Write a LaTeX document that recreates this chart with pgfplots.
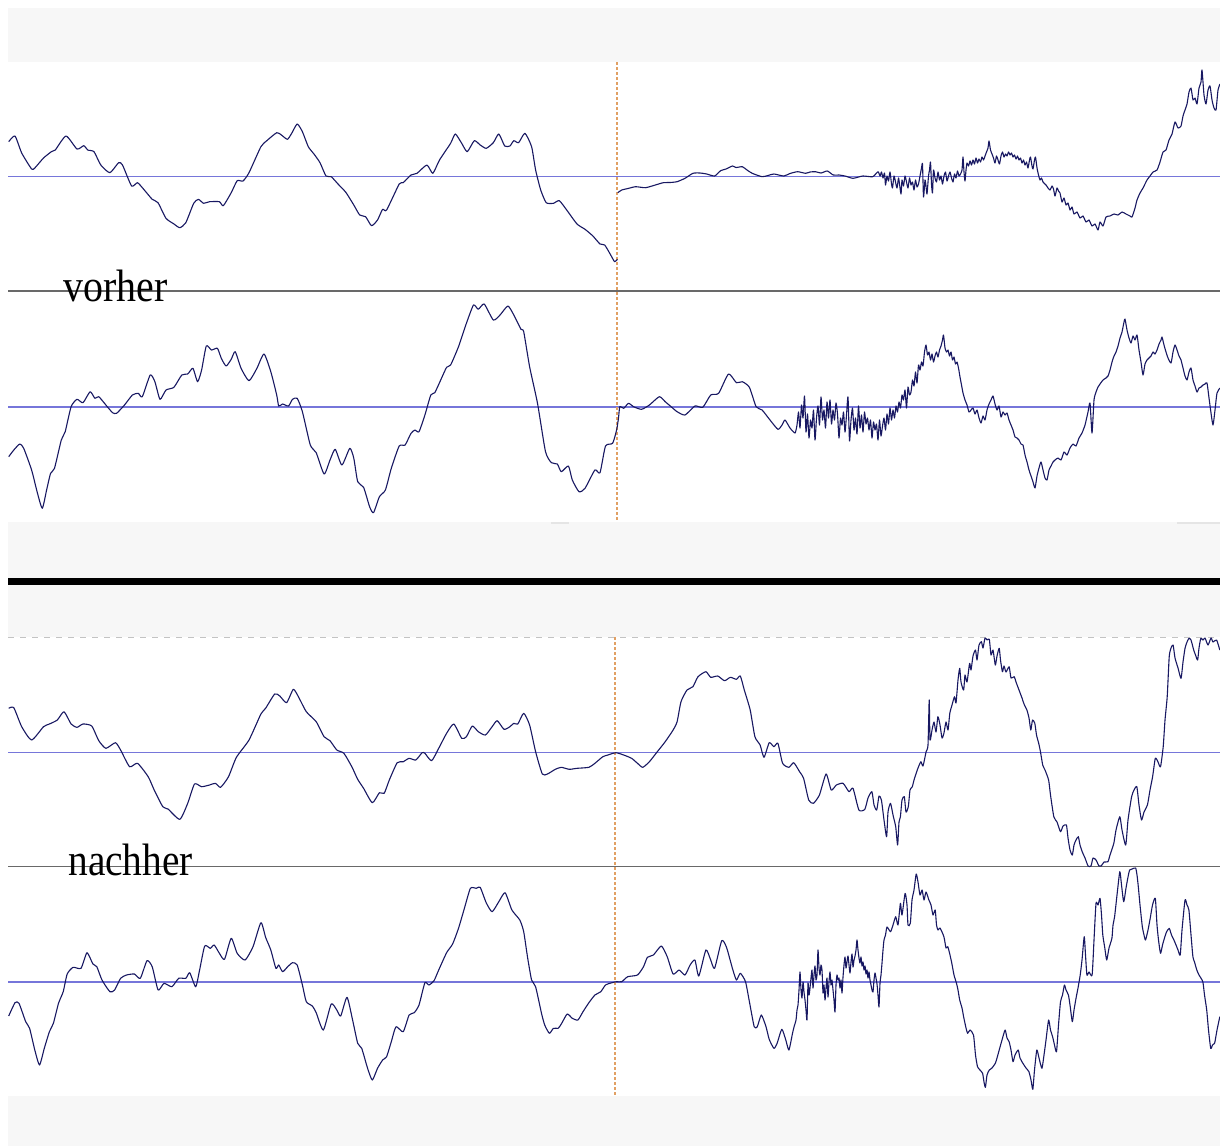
\documentclass[border=0pt]{standalone}
\usepackage{pgfplots}
\pgfplotsset{compat=1.18}
\usepackage{fontspec}
\newfontfamily\labelfont{Liberation Serif}
\definecolor{wave}{RGB}{24,24,98}
\definecolor{cline}{RGB}{118,118,218}
\definecolor{sep}{RGB}{105,105,105}
\definecolor{band}{RGB}{247,247,247}
\definecolor{cursor}{RGB}{225,160,100}
\definecolor{faint}{RGB}{195,195,195}
\begin{document}
\begin{tikzpicture}
\begin{axis}[
  scale only axis, width=610pt, height=573pt,
  xmin=0, xmax=1220, ymin=0, ymax=1146, y dir=reverse,
  axis lines=none, clip=true, no markers,
  every axis plot/.append style={line join=round},
  wv/.style={wave, line width=0.55pt, smooth, tension=0.35},
]
% background and bands
\addplot[fill=white, draw=none] coordinates {(0,0)(1220,0)(1220,1146)(0,1146)} -- cycle;
\addplot[fill=band, draw=none] coordinates {(8,8)(1220,8)(1220,62)(8,62)} -- cycle;
\addplot[fill=band, draw=none] coordinates {(8,522)(1220,522)(1220,637)(8,637)} -- cycle;
\addplot[fill=band, draw=none] coordinates {(8,1096)(1220,1096)(1220,1146)(8,1146)} -- cycle;
\addplot[black, line width=3.4pt] coordinates {(8,581.5)(1220,581.5)};
\addplot[faint, dashed, line width=0.5pt] coordinates {(8,637.5)(1220,637.5)};
\addplot[faint!80!black!20!band, line width=1.2pt] coordinates {(551,523)(569,523)};
\addplot[faint!80!black!20!band, line width=1.2pt] coordinates {(1177,523)(1220,523)};
% separators and centre lines
\addplot[sep, line width=0.65pt] coordinates {(8,291)(1220,291)};
\addplot[sep, line width=0.65pt] coordinates {(8,866.7)(1220,866.7)};
\addplot[cline, line width=0.85pt] coordinates {(8,176.5)(1220,176.5)};
\addplot[cline, line width=0.85pt] coordinates {(8,406.7)(1220,406.7)};
\addplot[cline, line width=0.85pt] coordinates {(8,752.6)(1220,752.6)};
\addplot[cline, line width=0.85pt] coordinates {(8,982.3)(1220,982.3)};
% cursors
\addplot[cursor, dash pattern=on 1.5pt off 1pt, line width=0.6pt] coordinates {(617,62)(617,522)};
\addplot[cursor, dash pattern=on 1.5pt off 1pt, line width=0.6pt] coordinates {(615,637)(615,1096)};
% ---------- vorher, channel 1 ----------
\addplot[wv] coordinates {(8.7,141.7)(15,136)(21.7,153)(31.6,169)(34.8,168)(43.5,158)(51.4,151.7)(55.3,150)(66,136)(77,149)(83.8,145.7)(87.7,150)(94,151.7)(100.8,165)(109.9,172.7)(118.6,162.7)(122.5,165)(131.6,186)(137.5,182.7)(144.3,190)(152.2,199.3)(158,202.7)(166,218.3)(174,224)(179.8,227.7)(185.8,222.7)(193.7,203.3)(198.4,199.3)(203.6,203.3)(209.5,201.7)(219.4,201.7)(223.3,205.7)(231.2,192.7)(237.2,180.7)(243,181)(249,172.7)(260.9,146.7)(266.8,140.7)(276.7,132.7)(281.4,135)(287.4,139.3)(291.7,133.3)(297.2,124)(302.4,131.7)(308.3,146.7)(314.2,154.3)(320,162.7)(326,176)(331.2,176.7)(338,184)(345.8,192.3)(353.8,205)(359.7,215)(365.6,216.7)(371.5,225.7)(377.5,220)(382.6,209.3)(386.6,210)(399.2,184)(403.2,182.7)(411,175)(417,173.3)(426.9,165)(432.8,173.3)(439.5,160)(450.6,143.3)(455.3,134)(461.7,143.3)(467.2,151.7)(474.3,140.7)(480.2,145)(486.2,148.3)(493.3,142.7)(498.8,134)(504.7,146)(509.9,146)(513.8,140.7)(518.6,142.7)(524.9,133.3)(531.6,146.7)(535.6,170)(540.7,190)(546.2,202.7)(553.4,203.3)(559.3,200.7)(567.2,210.7)(577,224)(585,229.3)(592.9,236)(600,244)(604.7,245)(610.7,255)(614.6,261.7)(617.4,259.3)};
\addplot[wv] coordinates {(617.8,192.7)(621.7,190)(628,188.5)(635.6,186.7)(645.5,187.7)(655.3,185)(663.2,182.7)(670,182.5)(677,181.7)(685,178.3)(692.9,173.3)(700,173)(706.7,174)(714.6,176)(720.6,170.7)(726,169)(732.4,166)(736,167.5)(742.3,166.7)(747,170)(752.2,173.3)(762,176.7)(768,175.5)(773.9,174)(783.8,176)(790,173.5)(797.6,171.7)(805.5,173.3)(810,172)(815.4,171.7)(821,173)(827.3,171)(833.2,175)(839,175)(845,176)(853,178.3)(862.8,176)(872.7,176.7)(878,171.7)
(880,176)(881.5,172)(883,178)(884.5,173)(885.5,185)(887,176)(888.5,181)(890,172)(891.5,184)(892.5,188)(894,176)(895.5,182)(897,188)(898.5,178)(899.5,184)(901,194)(902,180)(903.5,186)(905,176)(906.5,182)(908,188)(909.5,178)(911,185)(912.5,182)(914,190)(915.5,180)(917,187)(918.5,184)(920,176)(921.5,168)(922.5,164)(923.5,197)(925,180)(926,186)(927,194)(928.5,176)(929.5,170)(930.5,162)(931.5,184)(932.5,193)(933.5,170)(935,178)(936.5,182)(938,172)(939.5,180)(941,176)(942.5,184)(944,176)(945.5,172)(947,181)(948.5,176)(950,172)(951.5,178)(953,182)(954.5,174)(956,178)(957.5,171)(959,176)(960.5,174)(962,170)(963,157)(964,172)(965,181)(966,170)(967,163)(968.5,166)(970,161)(971.5,165)(973,160)(974.5,164)(976,158)(977.5,163)(979,159)(980.5,162)(982,157)(983.5,160)(985,156)(986.5,152)(988,148)(989,141)(990.5,150)(992,154)(993.5,158)(995,163)(996.5,156)(998,160)(999.5,164)(1001,156)(1002.5,152)(1004,157)(1005.5,154)(1007,156)(1008.5,152)(1010,155)(1011.5,153)(1013,157)(1014.5,155)(1016,159)(1017.5,156)(1019,160)(1020.5,158)(1022,163)(1023.5,160)(1025,165)(1026.5,162)(1028,168)(1029.5,160)(1030.5,157)(1032,166)(1033,169)(1034.5,160)(1035.5,157)(1037,168)(1038.5,175)(1040,180)(1041.5,178)(1043,182)(1046,185)(1048,188)(1050,190)(1052,186)(1053.5,189)(1055,196)(1057,188)(1058.5,191)
(1060,193)(1062,202)(1064,198)(1066,205)(1068,203)(1070,210)(1072,207)(1074,214)(1077,212)(1080,218)(1083,216)(1086,222)(1089,220)(1092,226)(1095,224)(1098,230)(1100,222)(1103,226)(1106,217)(1110,216)(1114,214)(1118,215)(1122,212)(1126,214)(1130,216)(1132,217)(1135,208)(1137,200)(1140,193)(1143,188)(1147,180)(1150,176)(1153,172)(1157,170)(1160,162)(1163,152)(1166,150)(1169,140)(1172,134)(1175,122)(1178,128)(1181,126)(1183,116)(1185,110)(1187,104)(1189,92)(1191,88)(1193,100)(1195,98)(1197,104)(1199,88)(1201,82)(1202,70)(1204,95)(1206,104)(1208,90)(1210,86)(1212,100)(1214,108)(1216,110)(1218,90)(1220,84)};
% ---------- vorher, channel 2 ----------
\addplot[wv] coordinates {(8.7,456.7)(13.8,450)(19.8,444)(23.7,448.3)(31.6,470)(37.5,493.3)(42.3,508.3)(46.6,490)(50.6,473.3)(54.5,468.3)(61.3,440)(65.2,431.7)(71.1,406.7)(77,399.3)(83,402.7)(90.1,391.7)(94.9,398.3)(98.8,396.7)(106.7,406)(112.6,412.7)(116.6,413.3)(124.5,405)(132.4,395)(138.3,393.3)(142.3,396.7)(150.2,375)(154.9,381.7)(160,399.3)(166,390)(173.9,387.3)(181.8,375)(187.7,374)(192.9,368.3)(197.6,381.7)(201.6,370)(206.3,346)(211.5,350)(217.4,348.3)(221.3,358.3)(226.1,366)(231.2,359.3)(235.2,351.7)(241.1,368.3)(249,380.7)(256.9,368.3)(264,354)(270.8,371.7)(276.7,395)(278.7,406)(282.6,404)(288.5,406)(292.5,399.3)(297.2,398.3)(302.4,411.7)(310.3,445)(316.2,452.7)(324.1,474)(330,460)(335.2,449.3)(341.9,465)(349.8,448.3)(353.8,458.3)(357.7,481.7)(363.6,487.3)(369.6,506.7)(373.5,512.7)(379.4,496.7)(385.4,490)(391.3,468.3)(399.2,446)(405.1,445)(411,433.3)(415,430)(419,431.7)(424.9,415)(430.8,395)(434.8,392.7)(440.7,380)(446.6,367.3)(450.6,365)(458.5,346.7)(466.4,323.3)(473.5,305)(478.3,309.3)(484.2,304)(493.3,320)(500,315)(507.9,306)(513.8,315)(521,329.3)(523.7,331.7)(529.6,366.7)(537.5,403.3)(545.5,451.7)(551.4,462.7)(557.3,464)(561.3,471.7)(568.4,466)(572.3,480)(579,491.7)(585,488.3)(594.9,470)(600,472.7)(605.5,446)(612.6,443.3)(616.6,430)(618.5,418)
(619.8,406.7)(623.7,408.3)(628.5,403.3)(633.6,406.7)(641.5,409.3)(649.4,405)(659.3,396.7)(665.2,401.7)(671.1,406.7)(677.1,411.7)(685,415)(694.9,406)(702.8,407.3)(710.7,395)(718.6,393.3)(728.5,374)(736.4,382.7)(742.3,381.7)(749.4,387.3)(756.1,406.7)(762.1,410)(770,420)(777.9,429.3)(782,425)(785,420)(790,428)(795,433)
(797,425)(798.5,412)(800,428)(801.5,405)(803,418)(804.5,396)(806,432)(807.5,414)(809,438)(810.5,420)(812,428)(813.5,410)(815,440)(816.5,418)(818,406)(819.5,425)(821,397)(822.5,420)(824,410)(825.5,428)(827,402)(828.5,418)(830,400)(831.5,424)(833,410)(834.5,420)(836,403)(837.5,414)(839,438)(840.5,418)(842,425)(843.5,412)(845,432)(846.5,415)(848,397)(849.5,441)(851,420)(852.5,408)(854,430)(855.5,418)(857,434)(858.5,406)(860,428)(861.5,415)(863,432)(864.5,412)(866,424)(867.5,418)(869,430)(870.5,420)(872,438)(873.5,422)(875,430)(876.5,424)(878,440)(879.5,420)(881,436)(882.5,426)(884,418)(885.5,430)(887,414)(888.5,424)(890,408)(891.5,420)(893,410)(894.5,418)(896,406)(897.5,412)(899,402)(900.5,408)(902,395)(903.5,400)(905,390)(906.5,408)(908,387)(909.5,395)(911,392)(912.5,380)(914,386)(915.5,372)(917,383)(918.5,365)(920,370)(921.5,362)(923,366)(924.5,352)(926,345)(927.5,355)(929,352)(930.5,360)(932,354)(933.5,362)(935,356)(936.5,352)(938,357)(939.5,350)(941,346)(942.5,340)(943.5,335)(945,348)(946.5,352)(948,350)(949.5,356)(951,352)(952.5,360)(954,357)(955.5,364)(957,362)(958.5,368)(960,377)(961.5,385)(963,393)(965,400)(967,405)(969,412)(971,410)(973,408)(975,414)(977,410)(979,418)(981,423)(983,416)(985,420)(987,410)(989,404)(991,400)(993,396)(995,404)(997,410)(999,406)(1001,417)(1003,412)(1005,415)(1007,413)(1009,420)(1011,425)(1013,430)(1015,437)(1017,438)(1019,440)(1021,444)(1023,445)(1025,455)(1027,462)(1029,470)(1031,476)(1033,482)(1035,488)(1037,476)(1039,468)(1041,462)(1043,470)(1045,478)(1047,480)(1049,470)(1051,466)(1053,462)(1055,460)(1058,458)(1061,460)(1064,452)(1067,455)(1070,448)(1073,444)(1076,446)(1079,438)(1082,433)(1085,425)(1088,412)(1090,403)(1092,433)(1094,400)(1096,392)(1098,387)(1100,384)(1103,380)(1106,378)(1108,376)(1110,370)(1112,362)(1114,356)(1116,352)(1118,346)(1120,338)(1122,332)(1124,322)(1125,319)(1127,330)(1129,338)(1131,343)(1133,336)(1135,340)(1137,335)(1139,350)(1141,362)(1143,375)(1145,364)(1147,360)(1149,358)(1151,356)(1153,352)(1155,354)(1157,350)(1159,344)(1161,340)(1162,337)(1164,345)(1166,352)(1168,358)(1171,363)(1173,352)(1175,345)(1177,350)(1179,356)(1181,360)(1183,368)(1185,376)(1187,380)(1189,372)(1191,368)(1193,380)(1195,386)(1197,392)(1199,388)(1201,387)(1203,385)(1205,384)(1207,383)(1209,398)(1211,413)(1213,425)(1215,410)(1217,393)(1220,388)};
% ---------- nachher, channel 1 ----------
\addplot[wv] coordinates {(8.7,708.3)(13.8,707.7)(21.7,726.7)(31.6,740)(43.5,726.7)(49.4,724)(57.3,720)(64,711.7)(71.1,724)(77,727.3)(83,724)(91.7,726)(98.8,740.7)(105.9,748.3)(115.4,742.7)(120.6,750)(129.6,766.7)(137.5,763.3)(148.2,776.7)(154.2,790)(162.8,806.7)(168,809)(179.8,819.3)(187.7,803.3)(194.5,784)(201.6,786.7)(209.5,785)(215.4,783.3)(220.6,787.3)(228.5,776.7)(236.4,757.3)(249,740)(260.9,714)(265.6,708.3)(274.7,694)(279.8,696)(286.6,702.7)(293.3,689.3)(298.4,696.7)(306.3,711.7)(316.2,721.7)(324.1,736.7)(330,740.7)(336.8,750)(343.9,753.3)(351.8,766.7)(357.7,779.3)(363.6,788.3)(372.3,802.7)(379.4,792.7)(384.2,793.3)(389.3,780)(397.2,762.7)(403.2,761.7)(409.1,758.3)(415.8,760)(422.1,752.7)(424.9,753.3)(431.6,760.7)(438.7,748.3)(446.6,733.3)(453.8,724)(461.7,738.3)(466.4,736.7)(472.3,726)(478.3,731.7)(485.4,735)(492.1,726.7)(497.2,720.7)(504,729.3)(509.9,726.7)(513.8,723.3)(517.8,724)(523.7,713.3)(529.6,725)(535.6,751.7)(542.3,774)(547.4,774)(555.3,769.3)(561.3,767.3)(569.2,769.3)(577.1,768.3)(588.9,767.3)(594.9,763.3)(602.8,756.7)(607.9,755)(615.8,752.7)(623.7,755)(631.6,758.3)(637.5,763.3)(642.7,767.3)(649.4,761.7)(657.3,751.7)(665.2,741.7)(673.1,730)(677.1,721.7)(681,701.7)(687,690)(692.9,686.7)(698,676.7)(705.9,671.7)(710.7,677.3)(717.8,676)(724.5,680.7)(730.4,677.3)(736.4,679.3)(740.3,676)(744.3,690)(750.2,710)(754.9,736.7)(760.1,745)(764,757.3)(769.2,742.7)(773.9,746.7)(777.9,743.3)(782.6,763.3)(788.9,767.3)(793.7,762.7)(799.6,771.7)(803.6,778.3)(808.7,800)(813.4,803.3)(819.4,795)(826.1,774)(831.2,790)(836.4,785)(843.1,783.3)(849,791.7)(853,788.3)(858.9,810)(864.8,809.3)(868,798)(871.9,791.7)(874,805)(876.7,810)(879,796)(881.4,800)(884,820)(886.6,836.7)(888,812)(890.5,803.3)(893,815)(895.7,826.7)(897.6,845)(899,822)(900.4,816.7)(902,800)(904.3,796.7)(906,812)(908.3,806.7)(910,790)(912.3,786.7)(914,780)(916.2,773.3)(918,768)(920.9,761.7)(923,766)(926.1,751.7)(928,745)(929.2,700)(930,740)(932,730)(934,722)(936,732)(937.9,716.7)(940,725)(942,738)(943.9,733.3)(946,722)(948,730)(949.8,713.3)(952,705)(954.5,696.7)(956,703)(958,680)(959.7,668.3)(961,682)(963.6,690)(965,675)(967,682)(969.6,663.3)(971,670)(973,656)(975.5,650)(977,660)(979,645)(981.4,641.7)(983,648)(985,638)(987,640)(989.3,639.3)(991,655)(993,650)(995.3,665)(997,656)(999.2,648.3)(1000.5,660)(1002.4,671.7)(1004,666)(1006,672)(1009.1,666.7)(1011,678)(1014.2,676.7)(1016,682)(1019,690)(1022,698)(1024,704)(1026.9,710)(1029,718)(1030.8,730)(1032.5,720)(1034.8,723.3)(1036.5,735)(1038.7,743.3)(1040.5,752)(1042.7,765)(1045,770)(1048.6,780)(1050.5,795)(1053.8,816.7)(1057,822)(1060.5,831.7)(1063,826)(1066.4,825)(1068,838)(1070,850)(1072.3,855)(1074,845)(1076,840)(1078.3,836.7)(1080,845)(1082.2,851.7)(1085,858)(1088.1,866)(1091,866)(1093,858)(1096,860)(1099,866)(1101.2,866)(1104,862)(1107.9,861.7)(1110,855)(1113.8,843.3)(1116,830)(1119.8,816.7)(1122,830)(1125.7,845)(1128,820)(1131.6,796.7)(1134,790)(1136.8,786.7)(1139,805)(1141.5,820)(1144,812)(1147.4,805)(1150,790)(1152.6,776.7)(1155.3,758.3)(1158,762)(1160.5,766.7)(1163.2,746.7)(1165,720)(1167.2,696.7)(1169.2,656.7)(1171,648)(1173.1,645)(1175,658)(1178,668)(1181,678.3)(1183,662)(1185,648.3)(1187,642)(1189,638.3)(1191,640)(1193.7,650)(1195.5,655)(1197.6,660)(1199,648)(1200.8,638.3)(1203,640)(1205,638)(1208,645)(1211,638)(1213,642)(1216.6,640)(1219.8,650)};
% ---------- nachher, channel 2 ----------
\addplot[wv] coordinates {(8.7,1016)(15,1002.7)(19,1003.3)(25.7,1021.7)(29.6,1028.3)(34.8,1050)(39.5,1065)(44.3,1048.3)(49.4,1031.7)(53.4,1023.3)(58.5,1003.3)(63.2,991.7)(67.2,974)(73.1,967.3)(81,968.3)(87,952.7)(92.9,964)(96.8,966.7)(102,980)(109.9,991.7)(114.6,990)(120.6,978.3)(126.5,975)(134.4,974)(140.3,978.3)(147,960.7)(152.2,966.7)(158.1,990)(164,983.3)(171.9,986.7)(178.7,978.3)(185.8,978.3)(189.7,972.7)(195.7,986.7)(199.6,970)(204.7,946)(210.3,948.3)(214.2,945)(219.4,953.3)(224.5,959.3)(231.2,938.3)(237.2,953.3)(245.1,960)(253,946.7)(260.9,922.7)(265.6,937.3)(270.8,950)(275.9,968.3)(278.7,965)(282.6,971.7)(287.7,966.7)(292.5,962.7)(297.2,965)(302.4,985)(306.3,1001.7)(312.3,1006)(316.2,1012.7)(323.3,1030)(331.2,1004)(336.8,1010)(340.7,1016)(347,997.3)(352.6,1020)(357.7,1043.3)(361.7,1048.3)(367.6,1068.3)(372.3,1080)(377.5,1068.3)(382.6,1060)(386.6,1056.7)(391.3,1041.7)(396,1026.7)(403.2,1031.7)(409.1,1015)(414.2,1012.7)(419,1005)(424.9,982.7)(428.9,985)(434,980.7)(438.7,970)(446.6,952.7)(452.6,944)(458.5,928.3)(464.4,908.3)(470.4,888.3)(476.3,888.3)(480.2,887.3)(486.2,902.7)(492.1,911.7)(498.8,901.7)(505.1,892.7)(511.9,910)(519.8,920)(523.7,931.7)(527.7,958.3)(531.6,980)(535.6,986.7)(541.5,1013.3)(544.7,1025)(549.4,1033.3)(553.4,1028.3)(558.1,1028.3)(561.3,1024)(567.2,1014)(572.3,1018.3)(577.9,1020)(583,1011.7)(588.9,1002.7)(594.9,995)(600.8,991.7)(605.5,985)(611.9,982.7)(616.6,981.7)(621.7,981.7)(627.7,976.7)(637.5,975)(643.5,966.7)(647.4,957.3)(653.4,955)(661.3,946)(667.2,956.7)(673.1,974)(679.1,970)(685,975)(690.1,965)(694.9,960)(698.8,976)(705.9,950)(710.7,960)(714.6,968.3)(721.7,940.7)(726.5,947.3)(732.4,968.3)(736.4,980)(740.3,973.3)(745.5,981.7)(749.4,1001.7)(754.2,1026.7)(757.3,1026.7)(761.3,1015)(766,1026.7)(769.2,1039.3)(773.9,1048.3)(777.1,1043.3)(781.8,1029.3)(785.8,1040)(788.9,1050)(792.5,1033.3)
(794,1027)(796,1020)(797,1010)(798,1005)(799,990)(800,972)(801,990)(802,998)(803,982)(804,992)(805,1000)(806,1010)(807,1020)(808,983)(809,995)(810,988)(811,978)(812,970)(813,988)(814,975)(815,966)(816,980)(817,975)(818,950)(819,968)(820,975)(821,965)(822,970)(823,993)(824,985)(825,1000)(826,988)(827,978)(828,997)(829,982)(830,972)(831,985)(832,980)(833,990)(834,1000)(835,1012)(836,985)(837,975)(838,980)(839,978)(840,988)(841,980)(842,993)(843,977)(844,965)(845,957)(846,968)(847,962)(848,956)(849,965)(850,973)(851,962)(852,954)(853,967)(854,960)(855,956)(856,950)(857,940)(858,950)(859,958)(860,963)(861,957)(862,966)(863,962)(864,970)(865,966)(866,974)(867,970)(868,978)(869,972)(870,980)(871,985)(872,990)(873,992)(874,980)(875,973)(876,978)(877,984)(878,995)(879,1007)(880,983)(881,975)(882,963)(883,950)(884,940)(885.5,935)(887,927)
(890.5,931.7)(893,925)(895.7,916.7)(898,925)(900.4,903.3)(902,915)(905.1,893.3)(907,905)(908,925)(910.3,923.3)(912,900)(914,890)(916.2,874)(918,882)(920,895)(922.1,890)(924,900)(926,892)(928.9,900)(931,905)(933,915)(935.2,910)(936.5,925)(938,930)(940,928)(943.9,936.7)(946,948)(947.8,946.7)(950,955)(951.8,963.3)(954,975)(956.5,983.3)(958,990)(959.7,1000)(962,1008)(963.6,1016.7)(966,1028)(967.6,1033.3)(970,1030)(973.5,1035)(975.5,1055)(977.5,1066.7)(980,1070)(982.6,1073.3)(984,1082)(985.4,1087.3)(987,1075)(989.3,1070)(992,1068)(995.3,1063.3)(997,1058)(999.2,1050)(1002,1040)(1005.1,1030)(1007,1038)(1009.1,1041.7)(1011,1050)(1013,1061.7)(1015,1055)(1018.2,1050)(1020,1058)(1022.9,1063.3)(1026,1068)(1028.9,1071.7)(1031,1080)(1032.8,1089.3)(1034.5,1070)(1036.8,1050)(1039,1058)(1041.9,1068.3)(1044,1055)(1046,1040)(1048.6,1020)(1050.5,1030)(1052.6,1036.7)(1054.5,1045)(1056.5,1051.7)(1058.5,1025)(1060.5,1001.7)(1062.5,995)(1064.4,985)(1066,990)(1068.4,995)(1070,1005)(1072.3,1021.7)(1074,1010)(1076.3,996.7)(1078,988)(1080.2,975)(1082,960)(1084.2,936.7)(1085.5,955)(1086.9,975)(1089,972)(1092.1,975)(1094,940)(1096,903.3)(1098,905)(1100,898.3)(1101.5,915)(1102.8,935)(1104.8,948)(1106.7,960)(1109,948)(1111.9,938.3)(1113,925)(1114.6,916.7)(1117,895)(1119.8,871.7)(1121.5,885)(1123.7,901.7)(1126,888)(1127.8,878)(1129.6,870)(1132,869)(1135.6,868)(1137,875)(1138.3,886.7)(1140,905)(1142.3,926.7)(1144,935)(1145.5,940)(1148,930)(1150.2,918.3)(1152.5,905)(1155.3,898.3)(1157,925)(1158.5,940)(1160.5,953.3)(1162.5,945)(1164.4,938.3)(1166.5,932)(1169.2,928.3)(1171.5,935)(1173.9,940)(1176,945)(1178,950)(1180.2,955)(1182,930)(1185,900)(1187,905)(1188.9,910)(1191,935)(1192.9,956.7)(1194.5,962)(1196.8,970)(1199,975)(1202.8,981.7)(1204.5,995)(1206.7,1010)(1208.5,1030)(1210.7,1048.3)(1212.5,1045)(1214.6,1043.3)(1217,1030)(1219.8,1016.7)};
% labels
\node[anchor=base west, inner sep=0pt] at (axis cs:63,301) {\labelfont\fontsize{22.7}{24}\selectfont\scalebox{0.878}[1]{vorher}};
\node[anchor=base west, inner sep=0pt] at (axis cs:68,875) {\labelfont\fontsize{22.7}{24}\selectfont\scalebox{0.866}[1]{nachher}};
\end{axis}
\end{tikzpicture}
\end{document}
